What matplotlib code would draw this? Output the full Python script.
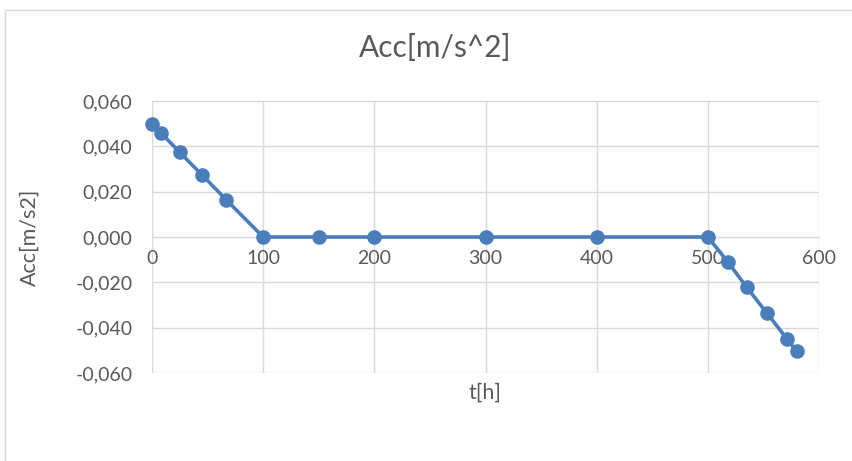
import matplotlib.pyplot as plt
import matplotlib.ticker as mticker
from matplotlib.patches import Rectangle

# data
t_h = [0, 8, 25, 45, 67, 100, 150, 200, 300, 400, 500, 518, 535, 553, 571, 580]
acc = [0.050, 0.046, 0.0373, 0.0274, 0.0163, 0.0, 0.0, 0.0, 0.0, 0.0, 0.0,
       -0.0110, -0.0222, -0.0335, -0.0448, -0.0505]

x_ticks = [0, 100, 200, 300, 400, 500, 600]
y_ticks = [-0.06, -0.04, -0.02, 0.0, 0.02, 0.04, 0.06]

plt.rcParams['font.family'] = ['Lato', 'DejaVu Sans']
grey = '#595959'
grid = '#d9d9d9'
blue = '#4a7ebb'

fig = plt.figure(figsize=(8.53, 4.61), dpi=100)
ax = fig.add_axes([152/853, 1 - 373/461, (819 - 152)/853, (373 - 101)/461])

# outer chart frame
fig.patches.append(Rectangle((5/853, -0.1), 1.1, 1 - 10/461 + 0.1,
                             transform=fig.transFigure, fill=False,
                             edgecolor='#d9d9d9', lw=1))

ax.plot(t_h, acc, color=blue, lw=2.6, marker='o', markersize=9.5,
        markerfacecolor=blue, markeredgecolor=blue, zorder=3, clip_on=False)

ax.set_xlim(0, 600)
ax.set_ylim(-0.06, 0.06)
ax.set_xticks(x_ticks)
ax.set_yticks(y_ticks)
ax.yaxis.set_major_formatter(mticker.FuncFormatter(lambda v, p: f"{v:.3f}".replace('.', ',')))

ax.grid(True, color=grid, lw=1)
for s in ['top', 'right', 'left']:
    ax.spines[s].set_visible(False)
ax.spines['bottom'].set_position(('data', 0))
ax.spines['bottom'].set_color(grid)
ax.tick_params(length=0, labelsize=14, colors=grey)
ax.tick_params(axis='x', pad=9)
ax.tick_params(axis='y', pad=14)

fig.text(435/853, 1 - 48/461, 'Acc[m/s^2]', ha='center', va='center',
         fontsize=21.5, color=grey)
fig.text(30/853, 1 - 237/461, 'Acc[m/s2]', ha='center', va='center',
         rotation=90, fontsize=15.5, color=grey)
fig.text(485/853, 1 - 393/461, 't[h]', ha='center', va='center',
         fontsize=15.5, color=grey)

plt.savefig('out.png', dpi=100)
